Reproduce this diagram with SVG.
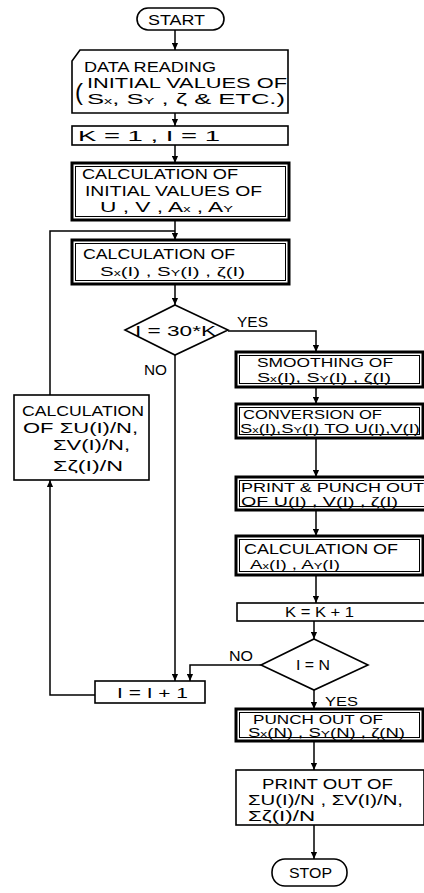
<svg xmlns="http://www.w3.org/2000/svg" width="424" height="893" viewBox="0 0 424 893">
<defs>
<style>
.t{font-family:"Liberation Sans",Arial,sans-serif;font-size:14px;fill:#000}
.m{font-size:13px}
.s{font-size:9px}
.box{fill:#fff;stroke:#000;stroke-width:1.6}
.thick{fill:#fff;stroke:#000;stroke-width:3}
.inner{fill:none;stroke:#000;stroke-width:1}
.ln{fill:none;stroke:#000;stroke-width:1.5}
</style>
<marker id="ar" viewBox="0 0 8 8" markerWidth="7" markerHeight="7" refX="8" refY="4" orient="auto" markerUnits="userSpaceOnUse">
<path d="M0,0.5 L8,4 L0,7.5 Z" fill="#000"/>
</marker>
</defs>
<rect width="424" height="893" fill="#fff"/>

<g id="connectors">
<line class="ln" x1="175" y1="30" x2="175" y2="50" marker-end="url(#ar)"/>
<line class="ln" x1="175" y1="113" x2="175" y2="126" marker-end="url(#ar)"/>
<line class="ln" x1="175" y1="145" x2="175" y2="163" marker-end="url(#ar)"/>
<line class="ln" x1="175" y1="220" x2="175" y2="240" marker-end="url(#ar)"/>
<path class="ln" d="M50,395 V231 H175"/>
<path class="ln" d="M95,695 H50 V480" marker-end="url(#ar)"/>
<line class="ln" x1="175" y1="284" x2="175" y2="305" marker-end="url(#ar)"/>
<path class="ln" d="M228,331 H316 V352" marker-end="url(#ar)"/>
<line class="ln" x1="175" y1="355" x2="175" y2="681" marker-end="url(#ar)"/>
<line class="ln" x1="316" y1="387" x2="316" y2="404" marker-end="url(#ar)"/>
<line class="ln" x1="316" y1="438" x2="316" y2="477" marker-end="url(#ar)"/>
<line class="ln" x1="316" y1="510" x2="316" y2="536" marker-end="url(#ar)"/>
<line class="ln" x1="316" y1="575" x2="316" y2="603" marker-end="url(#ar)"/>
<line class="ln" x1="314" y1="621" x2="314" y2="639" marker-end="url(#ar)"/>
<path class="ln" d="M261,665 H190 V681" marker-end="url(#ar)"/>
<line class="ln" x1="314" y1="690" x2="314" y2="709" marker-end="url(#ar)"/>
<line class="ln" x1="314" y1="741" x2="314" y2="770" marker-end="url(#ar)"/>
<line class="ln" x1="314" y1="825" x2="314" y2="859" marker-end="url(#ar)"/>
<text class="t" x="237" y="327" textLength="31" lengthAdjust="spacingAndGlyphs">YES</text>
<text class="t" x="144" y="375" textLength="23" lengthAdjust="spacingAndGlyphs">NO</text>
<text class="t" x="229" y="661" textLength="24" lengthAdjust="spacingAndGlyphs">NO</text>
<text class="t m" x="325" y="706" textLength="33" lengthAdjust="spacingAndGlyphs">YES</text>
</g>

<g id="start">
<rect class="box" x="137" y="8" width="87" height="22" rx="11"/>
<text class="t" x="148" y="25" textLength="57" lengthAdjust="spacingAndGlyphs">START</text>
</g>

<g id="data-reading">
<path class="box" d="M80,50 H288 V113 H72 V61 Z"/>
<text class="t" x="84" y="72" textLength="132" lengthAdjust="spacingAndGlyphs">DATA  READING</text>
<text class="t" x="75" y="100" style="font-size:24px">(</text>
<text class="t" x="87" y="88" textLength="200" lengthAdjust="spacingAndGlyphs">INITIAL  VALUES OF</text>
<text class="t" x="87" y="104" textLength="198" lengthAdjust="spacingAndGlyphs">S<tspan class="s">x</tspan>,  S<tspan class="s">Y</tspan> ,  ζ  &amp; ETC.)</text>
</g>

<g id="init-k-i">
<rect class="box" x="72" y="126" width="216" height="19"/>
<text class="t" x="78" y="141" textLength="142" lengthAdjust="spacingAndGlyphs">K = 1  ,    I = 1</text>
</g>

<g id="calc-initial">
<rect class="thick" x="72" y="163" width="217" height="57"/>
<rect class="inner" x="75.5" y="166.5" width="210" height="50"/>
<text class="t" x="82" y="179" textLength="156" lengthAdjust="spacingAndGlyphs">CALCULATION  OF</text>
<text class="t" x="85" y="196" textLength="177" lengthAdjust="spacingAndGlyphs">INITIAL VALUES OF</text>
<text class="t" x="100" y="212" textLength="133" lengthAdjust="spacingAndGlyphs">U , V , A<tspan class="s">x</tspan> , A<tspan class="s">Y</tspan></text>
</g>

<g id="calc-s">
<rect class="thick" x="72" y="240" width="217" height="44"/>
<rect class="inner" x="75.5" y="243.5" width="210" height="37"/>
<text class="t" x="83" y="259" textLength="152" lengthAdjust="spacingAndGlyphs">CALCULATION  OF</text>
<text class="t m" x="100" y="276" textLength="145" lengthAdjust="spacingAndGlyphs">S<tspan class="s">x</tspan>(I) , S<tspan class="s">Y</tspan>(I) , ζ(I)</text>
</g>

<g id="decision-30k">
<polygon class="box" points="175,305 228,330 175,355 125,330"/>
<text class="t" x="135" y="336" textLength="81" lengthAdjust="spacingAndGlyphs">I = 30*K</text>
</g>

<g id="calc-sum">
<rect class="box" x="14" y="395" width="135" height="85"/>
<text class="t" x="22" y="416" textLength="122" lengthAdjust="spacingAndGlyphs">CALCULATION</text>
<text class="t" x="23" y="433" textLength="115" lengthAdjust="spacingAndGlyphs">OF  ΣU(I)/N,</text>
<text class="t" x="53" y="450" textLength="77" lengthAdjust="spacingAndGlyphs">ΣV(I)/N,</text>
<text class="t" x="53" y="471" textLength="70" lengthAdjust="spacingAndGlyphs">Σζ(I)/N</text>
</g>

<g id="smoothing">
<rect class="thick" x="236" y="352" width="187" height="35"/>
<rect class="inner" x="239.5" y="355.5" width="180" height="28"/>
<text class="t m" x="257" y="367" textLength="136" lengthAdjust="spacingAndGlyphs">SMOOTHING  OF</text>
<text class="t m" x="257" y="382" textLength="134" lengthAdjust="spacingAndGlyphs">S<tspan class="s">x</tspan>(I), S<tspan class="s">Y</tspan>(I) , ζ(I)</text>
</g>

<g id="conversion">
<rect class="thick" x="236" y="404" width="187" height="34"/>
<rect class="inner" x="239.5" y="407.5" width="180" height="27"/>
<text class="t m" x="243" y="419" textLength="139" lengthAdjust="spacingAndGlyphs">CONVERSION  OF</text>
<text class="t m" x="240" y="433" textLength="180" lengthAdjust="spacingAndGlyphs">S<tspan class="s">x</tspan>(I),S<tspan class="s">Y</tspan>(I)  TO U(I),V(I)</text>
</g>

<g id="print-punch">
<rect class="thick" x="236" y="477" width="190" height="33"/>
<rect class="inner" x="239.5" y="480.5" width="190" height="26"/>
<text class="t m" x="241" y="492" textLength="183" lengthAdjust="spacingAndGlyphs">PRINT &amp; PUNCH OUT</text>
<text class="t m" x="241" y="506" textLength="157" lengthAdjust="spacingAndGlyphs">OF  U(I) ,  V(I) ,  ζ(I)</text>
</g>

<g id="calc-a">
<rect class="thick" x="236" y="536" width="187" height="39"/>
<rect class="inner" x="239.5" y="539.5" width="180" height="32"/>
<text class="t" x="244" y="554" textLength="154" lengthAdjust="spacingAndGlyphs">CALCULATION  OF</text>
<text class="t m" x="250" y="569" textLength="90" lengthAdjust="spacingAndGlyphs">A<tspan class="s">x</tspan>(I) ,  A<tspan class="s">Y</tspan>(I)</text>
</g>

<g id="k-increment">
<rect class="box" x="237" y="603" width="188" height="18"/>
<text class="t" x="285" y="617" textLength="69" lengthAdjust="spacingAndGlyphs">K = K + 1</text>
</g>

<g id="decision-n">
<polygon class="box" points="314,639 368,665 314,690 261,665"/>
<text class="t" x="296" y="670" textLength="34" lengthAdjust="spacingAndGlyphs">I = N</text>
</g>

<g id="i-increment">
<rect class="box" x="95" y="681" width="110" height="22"/>
<text class="t" x="117" y="698" textLength="71" lengthAdjust="spacingAndGlyphs">I =  I + 1</text>
</g>

<g id="punch-out">
<rect class="thick" x="236" y="709" width="187" height="32"/>
<rect class="inner" x="239.5" y="712.5" width="180" height="25"/>
<text class="t m" x="253" y="724" textLength="130" lengthAdjust="spacingAndGlyphs">PUNCH  OUT OF</text>
<text class="t m" x="248" y="737" textLength="157" lengthAdjust="spacingAndGlyphs" style="font-size:12px">S<tspan class="s">x</tspan>(N) , S<tspan class="s">Y</tspan>(N) , ζ(N)</text>
</g>

<g id="print-out">
<rect class="box" x="236" y="770" width="188" height="55"/>
<text class="t" x="262" y="789" textLength="131" lengthAdjust="spacingAndGlyphs">PRINT  OUT  OF</text>
<text class="t" x="248" y="805" textLength="155" lengthAdjust="spacingAndGlyphs">ΣU(I)/N , ΣV(I)/N,</text>
<text class="t" x="248" y="821" textLength="67" lengthAdjust="spacingAndGlyphs">Σζ(I)/N</text>
</g>

<g id="stop">
<rect class="box" x="272" y="859" width="75" height="27" rx="13"/>
<text class="t" x="289" y="878" textLength="43" lengthAdjust="spacingAndGlyphs">STOP</text>
</g>
</svg>
